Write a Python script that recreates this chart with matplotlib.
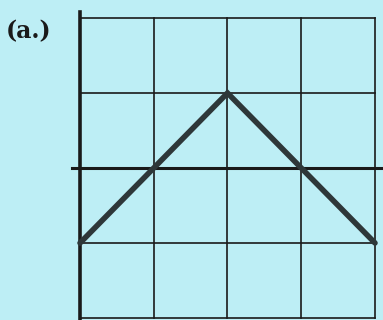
import matplotlib
matplotlib.use('Agg')
import matplotlib.pyplot as plt
import numpy as np

# triangle wave shown in panel (a.)
x_pts = [0, 2, 4]
y_pts = [-1, 1, -1]
x_grid = [0, 1, 2, 3, 4]
y_grid = [-2, -1, 0, 1, 2]

bg = '#bdeef5'

fig = plt.figure(figsize=(3.83, 3.2), dpi=100)
fig.patch.set_facecolor(bg)
ax = fig.add_axes([80/383., 2/320., 295/383., 300/320.])
ax.set_facecolor(bg)
ax.set_xlim(0, 4)
ax.set_ylim(-2, 2)

# grid
for gx in x_grid:
    ax.axvline(gx, color='#1a1a1a', lw=1.2, zorder=1, clip_on=False)
for gy in y_grid:
    ax.axhline(gy, color='#1a1a1a', lw=1.2, zorder=1, clip_on=False)

# axes
ax.plot([-0.11, 4.12], [0, 0], color='#1a1a1a', lw=2.2, zorder=2, clip_on=False)
ax.plot([0, 0], [-2.05, 2.08], color='#1a1a1a', lw=2.6, zorder=2, clip_on=False)

# curve
ax.plot(x_pts, y_pts, color='#2e3739', lw=4.0, zorder=3, clip_on=False,
        solid_capstyle='round', solid_joinstyle='miter')

for s in ax.spines.values():
    s.set_visible(False)
ax.set_xticks([])
ax.set_yticks([])

fig.text(6/383., 1 - 31/320., '(a.)', fontsize=17, fontweight='bold',
         family='DejaVu Serif', color='#1a1a1a', va='center', ha='left')

plt.savefig('out.png', dpi=100, facecolor=bg)
